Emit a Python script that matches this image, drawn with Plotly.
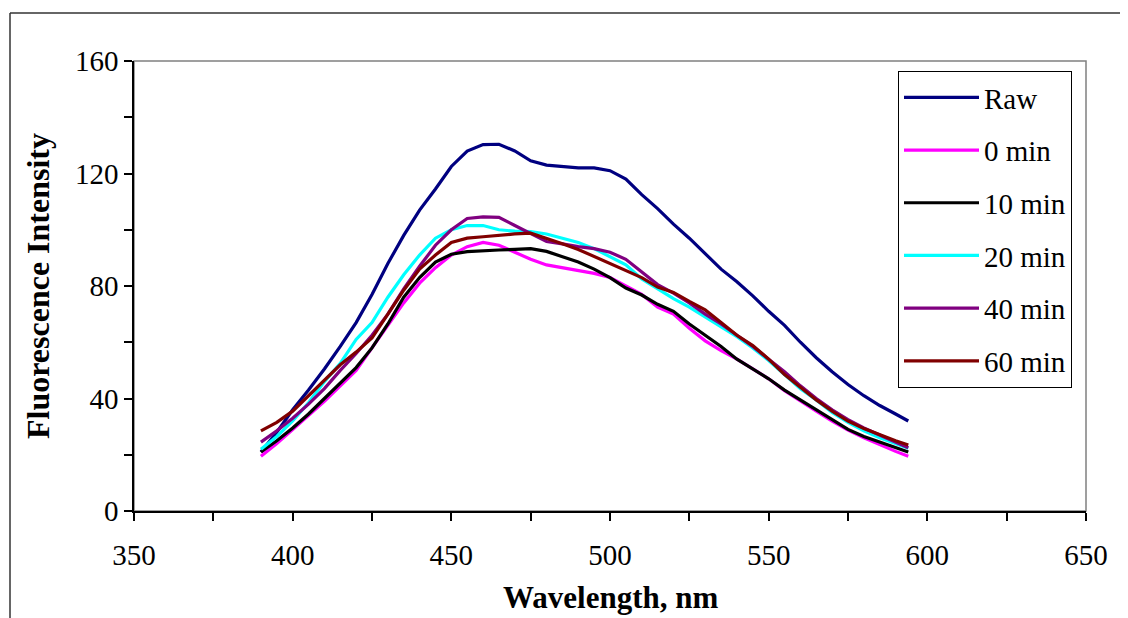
import plotly.graph_objects as go

wavelength = [390, 395, 400, 405, 410, 415, 420, 425, 430, 435, 440, 445, 450, 455, 460, 465,
              470, 475, 480, 485, 490, 495, 500, 505, 510, 515, 520, 525, 530, 535, 540, 545,
              550, 555, 560, 565, 570, 575, 580, 585, 590, 594]

raw = [21, 28, 36, 43, 50.5, 58.5, 67, 77, 88, 98, 107, 114.5, 122.5, 128, 130.3, 130.4,
       128, 124.5, 123, 122.5, 122, 122, 121, 118, 112.5, 107.5, 102, 97, 91.5, 86, 81.5, 76.5,
       71, 66, 60, 54.5, 49.5, 45, 41, 37.5, 34.5, 32]

min0 = [19.5, 24, 29, 34, 39, 44.5, 50, 58, 66, 74, 81, 86.5, 91, 94, 95.5, 94.5,
        92, 89.5, 87.5, 86.5, 85.5, 84.5, 83, 80, 77, 72.5, 70, 65, 60.5, 57, 54, 50.5,
        47, 42.8, 39, 35.5, 32, 28.8, 26, 23.5, 21.2, 19.5]

min10 = [21, 25, 29.5, 34.5, 40, 45.5, 51, 58, 66.5, 76, 83, 88.5, 91.3, 92.2, 92.6, 92.8,
         93, 93.3, 92.3, 90.5, 88.5, 86, 83, 79.3, 76.8, 73.5, 71, 66.5, 62.5, 58.5, 54, 50.5,
         47, 43, 39.5, 36, 32.5, 29, 26.5, 24.5, 22.5, 21]

min20 = [22, 26.5, 32, 38.5, 46, 52.5, 61, 67, 76, 84, 91, 97, 100, 101.5, 101.5, 100,
         99.5, 99.3, 98.5, 97, 95.5, 93.3, 90.5, 87.5, 82.5, 79, 75.5, 72.5, 69, 65.5, 62, 58,
         53.5, 48.5, 43.5, 39.5, 35, 31.5, 28.5, 26, 24, 22.3]

min40 = [24.5, 28.5, 33, 38, 43.5, 50, 56, 62.5, 70, 79, 87, 94.5, 100, 104, 104.6, 104.4,
         101.5, 98.5, 95.8, 95, 94, 93.3, 92, 89.5, 85, 80.5, 77.5, 74, 70, 66.5, 62.5, 58.5,
         54, 49.5, 44.5, 40, 36, 32.5, 29.5, 27, 24.5, 22.5]

min60 = [28.5, 31.5, 35.5, 41, 46.5, 52, 56.5, 61.5, 70, 78.5, 86, 91, 95.5, 97, 97.5, 98.1,
         98.5, 98.8, 97, 95, 93, 90.5, 88.3, 85.8, 83, 79.6, 77.7, 74.5, 71.5, 67, 62.5, 58.8,
         54, 48.5, 44, 39.5, 35.5, 32, 29.3, 27, 25, 23.5]

series_names = ["Raw", "0 min", "10 min", "20 min", "40 min", "60 min"]
series_values = [raw, min0, min10, min20, min40, min60]
series_colors = ["#000080", "#FF00FF", "#000000", "#00FFFF", "#800080", "#800000"]

x_ticks = [350, 400, 450, 500, 550, 600, 650]
y_ticks = [0, 40, 80, 120, 160]

FONT = "Liberation Serif, Times New Roman, serif"

fig = go.Figure()
for i, (name, vals, col) in enumerate(zip(series_names, series_values, series_colors)):
    fig.add_trace(go.Scatter(x=wavelength, y=vals, mode="lines", name=name,
                             legendgroup=f"g{i}",
                             line=dict(color=col, width=3.2)))

# page offset of the plot div (browser body margin)
OFF = 8
W, H = 1128 - OFF, 618 - OFF
# plot-area edges in page pixels
L, R, T, B = 134, 1086, 61, 511
pw, ph = R - L, B - T

def px_x(px):
    return (px - L) / pw

def px_y(py):
    return (B - py) / ph

fig.update_layout(
    width=W, height=H, autosize=False,
    margin=dict(l=L - OFF, r=W - (R - OFF), t=T - OFF, b=H - (B - OFF)),
    paper_bgcolor="white", plot_bgcolor="white",
    font=dict(family=FONT, size=29, color="black"),
    showlegend=True,
    legend=dict(x=px_x(898), y=px_y(71), xanchor="left", yanchor="top",
                bordercolor="black", borderwidth=1, bgcolor="white",
                tracegroupgap=12, font=dict(size=29, family=FONT),
                itemwidth=75),
    xaxis=dict(range=[350, 650], tickvals=x_ticks, ticks="outside", ticklen=8,
               tickwidth=1.5, tickcolor="black", ticklabelstandoff=9,
               minor=dict(dtick=25, tick0=350, ticks="outside", ticklen=8, tickwidth=1.5, tickcolor="black"),
               showline=True, linecolor="black", linewidth=1.5, showgrid=False, zeroline=False,
               tickfont=dict(size=29)),
    yaxis=dict(range=[0, 160], tickvals=y_ticks, ticks="outside", ticklen=8,
               tickwidth=1.5, tickcolor="black",
               minor=dict(dtick=20, tick0=0, ticks="outside", ticklen=8, tickwidth=1.5, tickcolor="black"),
               showline=True, linecolor="black", linewidth=1.5, showgrid=False, zeroline=False,
               tickfont=dict(size=29)),
    shapes=[
        dict(type="rect", xref="paper", yref="paper", x0=0, y0=0, x1=1, y1=1,
             line=dict(color="#808080", width=1.5), layer="below"),
        dict(type="line", xref="paper", yref="paper", x0=px_x(10), y0=px_y(13), x1=px_x(1135), y1=px_y(13),
             line=dict(color="#333333", width=1.5)),
        dict(type="line", xref="paper", yref="paper", x0=px_x(10), y0=px_y(13), x1=px_x(10), y1=px_y(625),
             line=dict(color="#333333", width=1.5)),
    ],
    annotations=[
        dict(text="<b>Fluorescence Intensity</b>", xref="paper", yref="paper",
             x=px_x(38), y=0.5, xanchor="center", yanchor="middle", textangle=-90,
             showarrow=False, font=dict(size=32, family=FONT)),
        dict(text="<b>Wavelength, nm</b>", xref="paper", yref="paper",
             x=0.5, y=px_y(597), xanchor="center", yanchor="middle",
             showarrow=False, font=dict(size=31, family=FONT)),
    ],
)

fig.write_html("out.html")
